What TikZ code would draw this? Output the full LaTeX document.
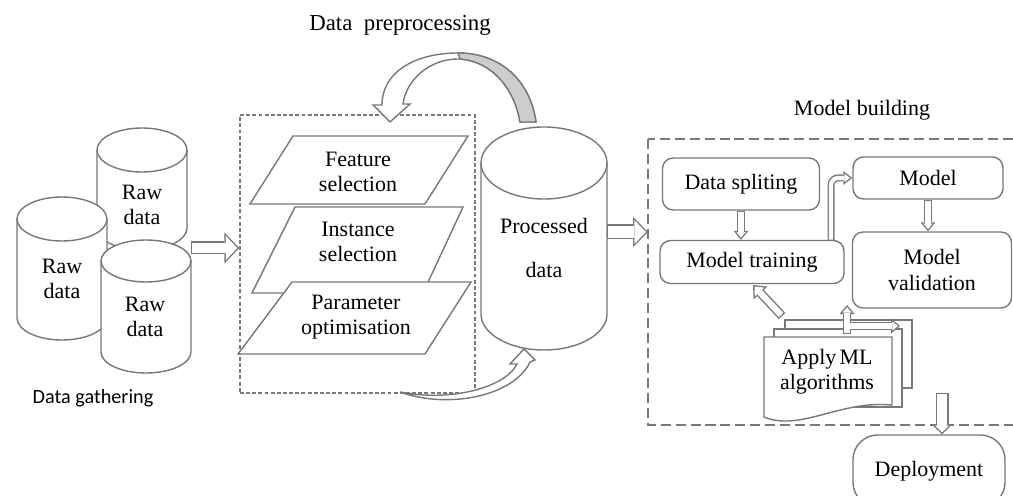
\documentclass[tikz,border=0pt]{standalone}
\usepackage{fontspec}
\setmainfont{Liberation Serif}
\newfontfamily\gathfont{Carlito}
\usetikzlibrary{arrows.meta}
\definecolor{xgray}{RGB}{120,120,120}
\definecolor{xshade}{RGB}{205,205,205}
\def\px{0.02cm}
\def\olw{0.8pt}
\newcommand{\drum}[5]{%
  \filldraw[gline,fill=white] (#1-#4,#2+#5) -- (#1-#4,#3-#5)
    arc[start angle=180,end angle=360,x radius=#4*\px,y radius=#5*\px]
    -- (#1+#4,#2+#5)
    arc[start angle=0,end angle=180,x radius=#4*\px,y radius=#5*\px] -- cycle;
  \draw[gline] (#1-#4,#2+#5)
    arc[start angle=180,end angle=360,x radius=#4*\px,y radius=#5*\px];}
\newcommand{\hsetup}[3]{%
  \pgfmathsetlengthmacro\hw{#1*\px}%
  \pgfmathsetlengthmacro\hwo{#2*\px}%
  \pgfmathsetlengthmacro\hl{#3*\px}%
  \pgfmathsetlengthmacro\hd{\olw*sqrt((#2/2)^2+(#3)^2)/(#2/2)}%
  \pgfmathsetlengthmacro\hli{\hl-\olw-\hd}%
  \pgfmathsetlengthmacro\hwi{\hwo*\hli/\hl}%
  \pgfmathsetlengthmacro\hwin{\hw-2*\olw}}

\begin{document}
\begin{tikzpicture}[x=0.02cm,y=-0.02cm]
\tikzset{gline/.style={draw=xgray,line width=\olw}}
\tikzset{txt/.style={font=\fontsize{12.5}{14.5}\selectfont,align=center,inner sep=1pt}}
\tikzset{rbox/.style={gline,rounded corners=6pt,fill=white,txt}}
\tikzset{hout/.style={xgray,line width=\hw,arrows={-{Triangle[width=\hwo,length=\hl,line width=0pt]}}}}
\tikzset{hin/.style={white,line width=\hwin,shorten <=\olw,shorten >=\hd,arrows={-{Triangle[width=\hwi,length=\hli,line width=0pt]}}}}
\useasboundingbox (0,0) rectangle (1013,496);
\node[font=\fontsize{13}{15}\selectfont] (pretitle) at (400,25) {Data\hspace{0.5em}preprocessing};
\node[txt] (mbtitle) at (862,110) {Model building};
\node[font=\gathfont\fontsize{11.5}{14}\selectfont] (gathtitle) at (93,398) {Data gathering};
\drum{142}{128}{250}{45}{22}
\node[txt] (raw2) at (142,205) {Raw\\data};
\drum{62}{197}{340}{45}{22}
\node[txt] (raw1) at (62,279) {Raw\\data};
\drum{146}{240}{373}{45}{21}
\node[txt] (raw3) at (145,317) {Raw\\data};
\node[draw=xgray,line width=0.7pt,dash pattern=on 2.2pt off 1.3pt,minimum width=235*\px,minimum height=278*\px] (prep) at (357.5,254) {};
\coordinate (g1) at (191,248);
\hsetup{13}{31}{15}
\draw[hout] (g1) -- (prep.west |- g1);
\draw[hin] (g1) -- (prep.west |- g1);
\filldraw[gline,fill=white] (293,136) -- (468,136) -- (425,204) -- (250,204) -- cycle;
\node[txt] (feat) at (358,172) {Feature\\selection};
\filldraw[gline,fill=white] (295,207) -- (463,207) -- (423,293) -- (252,293) -- cycle;
\node[txt] (inst) at (358,242) {Instance\\selection};
\filldraw[gline,fill=white] (292,282) -- (471,282) -- (425,354) -- (238,354) -- cycle;
\node[txt] (param) at (356,317) {Parameter\\optimisation};
\filldraw[gline,fill=white] (382,105) .. controls (382,72) and (415,53) .. (458,53)
  .. controls (500,53) and (530,80) .. (536,122) -- (520,122)
  .. controls (515,92) and (495,62) .. (460,59)
  .. controls (430,58) and (406,80) .. (403,104) -- (410,104) -- (390,122) -- (373,105) -- cycle;
\filldraw[gline,fill=xshade] (458,53) .. controls (500,53) and (530,80) .. (536,122) -- (520,122)
  .. controls (515,92) and (495,62) .. (460,59) -- cycle;
\drum{544}{127}{350}{63}{36}
\node[txt] (proc) at (544,248) {Processed\\[10pt]data};
\filldraw[gline,fill=white] (400,392) .. controls (450,402) and (505,388) .. (517,364)
  -- (510,364) -- (524,349) -- (535,360) -- (530,362)
  .. controls (515,395) and (450,410) .. (400,392) -- cycle;
\draw[xgray,line width=0.8pt,dash pattern=on 5.7pt off 2.8pt] (648,139) rectangle (1030,425);
\coordinate (mb) at (648,232);
\coordinate (p1) at (607,232);
\hsetup{15}{30}{15}
\draw[hout] (p1) -- (mb);
\draw[hin] (p1) -- (mb);
\node[rbox,minimum width=157*\px,minimum height=52*\px] (split) at (741,184) {Data spliting};
\node[rbox,minimum width=150*\px,minimum height=42*\px] (model) at (928,178) {Model};
\node[rbox,minimum width=184*\px,minimum height=43*\px] (train) at (752,262) {Model training};
\node[rbox,minimum width=159*\px,minimum height=76*\px] (valid) at (932,270) {Model\\validation};
\node[rbox,rounded corners=14pt,minimum width=152*\px,minimum height=72*\px] (deploy) at (929,471) {Deployment};
\hsetup{8}{15}{9}
\draw[hout] (split.south) -- (split.south |- train.north);
\draw[hin] (split.south) -- (split.south |- train.north);
\draw[hout] (model.south) -- (model.south |- valid.north);
\draw[hin] (model.south) -- (model.south |- valid.north);
\coordinate (t1) at (831,241);
\hsetup{7}{14}{9}
\draw[hout] (t1) [rounded corners=4pt] |- (model.west);
\draw[hin] (t1) [rounded corners=4pt] |- (model.west);
\filldraw[gline,fill=white] (785,320) rectangle (912,388);
\filldraw[gline,fill=white] (774,329) rectangle (902,407);
\filldraw[gline,fill=white] (764,337) -- (892,337) -- (892,405)
  .. controls (840,400) and (800,432) .. (764,417) -- cycle;
\node[txt] (apply) at (827,372) {Apply\hspace{0.15em}ML\\algorithms};
\coordinate (a1) at (847,334);
\coordinate (a2) at (847,305);
\coordinate (a3) at (847,326);
\coordinate (a4) at (900,326);
\hsetup{8}{15}{9}
\draw[hout] (a1) -- (a2);
\draw[hout] (a3) -- (a4);
\draw[hin] (a1) -- (a2);
\draw[hin] (a3) -- (a4);
\coordinate (d1) at (782,316);
\coordinate (d2) at (753,285);
\hsetup{9}{19}{11}
\draw[hout] (d1) -- (d2);
\draw[hin] (d1) -- (d2);
\coordinate (e1) at (942,393);
\hsetup{13}{21}{10}
\draw[hout] (e1) -- (e1 |- deploy.north);
\draw[hin] (e1) -- (e1 |- deploy.north);
\end{tikzpicture}
\end{document}
